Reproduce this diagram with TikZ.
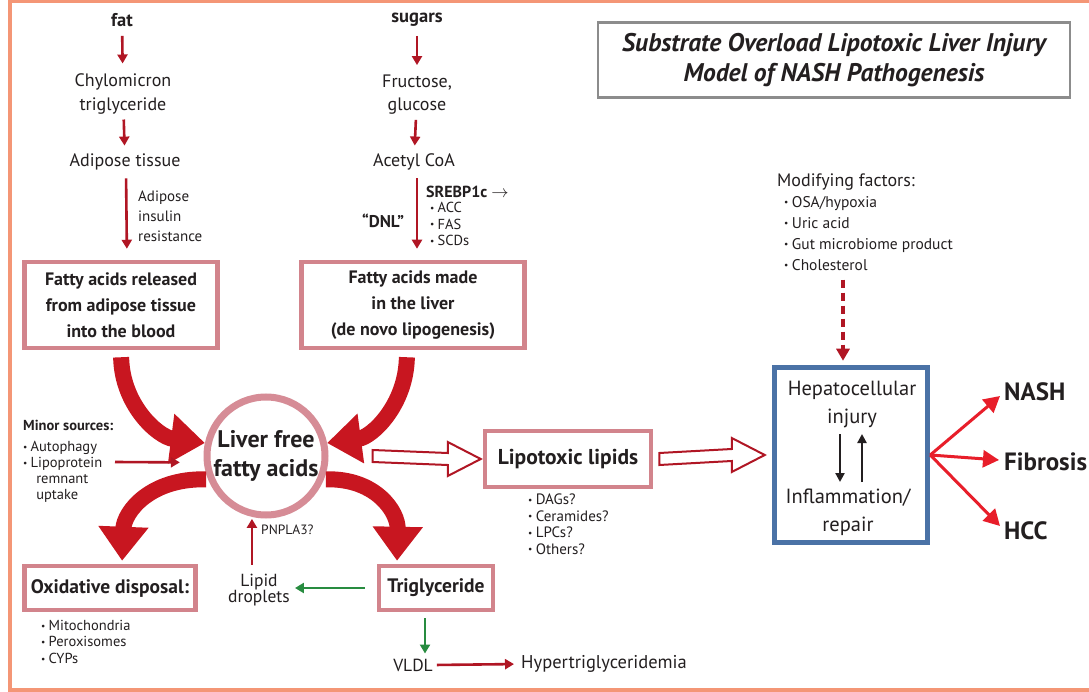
\documentclass[tikz,border=0pt]{standalone}
\usepackage{fontspec}
\setmainfont{PT Sans}
\usetikzlibrary{arrows.meta,calc}
\definecolor{dred}{RGB}{176,22,36}
\definecolor{bigred}{RGB}{200,22,32}
\definecolor{brightred}{RGB}{232,30,42}
\definecolor{boxpink}{RGB}{210,132,140}
\definecolor{ringpink}{RGB}{214,140,150}
\definecolor{framecol}{RGB}{244,150,118}
\definecolor{bluebox}{RGB}{74,114,166}
\definecolor{txtcol}{RGB}{35,31,32}
\definecolor{greenarr}{RGB}{40,140,64}
\definecolor{graybox}{RGB}{140,140,140}
\newcommand\fsz[2]{\fontsize{#1}{#2}\selectfont}
\newcommand\bul{\raisebox{0.2ex}{\fontsize{9.5}{9}\selectfont\textbullet}\hspace{0.22em}}
\begin{document}
\begin{tikzpicture}[x=1pt,y=-1pt,
  txt/.style={text=txtcol,inner sep=1pt,align=center},
  lbox/.style={draw=boxpink,line width=4.5pt,fill=white,text=txtcol,align=center,inner sep=2pt,font=\bfseries\fsz{18}{26}},
  redarr/.style={draw=dred,line width=2.6pt,-{Triangle[length=9pt,width=10pt]}},
  greenarrow/.style={draw=greenarr,line width=2.6pt,-{Triangle[length=9pt,width=10pt]}},
  bigarr/.style={draw=bigred,line width=16pt,-{Triangle[length=34pt,width=48pt]}},
  outarr/.style={draw=brightred,line width=3pt,-{Triangle[length=16pt,width=17pt]}},
  dblarr/.style={draw=dred,line width=2pt,fill=white,line join=miter},
  blackarr/.style={draw=txtcol,line width=2.4pt,-{Triangle[length=9pt,width=9pt]}},
]
\useasboundingbox (0,0) rectangle (1089,692);
\fill[white] (0,0) rectangle (1089,692);
\draw[framecol,line width=4pt] (10,1.5) rectangle (1100,689.5);

% left column
\node[txt,font=\bfseries\fsz{18.5}{20}] (fat) at (122,20) {fat};
\node[txt,font=\fsz{18}{24}] (chylo) at (123,94) {Chylomicron\\triglyceride};
\node[txt,font=\fsz{18}{20}] (adip) at (125,162) {Adipose tissue};
\node[txt,font=\fsz{15}{20},align=left,anchor=west] (air) at (137,216) {Adipose\\insulin\\resistance};
\node[lbox,minimum width=193pt,minimum height=86pt] (box1) at (121,305) {Fatty acids released\\from adipose tissue\\into the blood};
\draw[redarr,shorten <=8pt,shorten >=9pt] (fat) -- (chylo);
\draw[redarr,shorten <=4pt,shorten >=7pt] (chylo) -- (adip);
\draw[redarr,shorten <=7pt,shorten >=11pt] ([xshift=1pt]adip.south) -- ([xshift=6pt]box1.north);

% middle column
\node[txt,font=\bfseries\fsz{18.5}{20}] (sug) at (417,20) {sugars};
\node[txt,font=\fsz{18}{23}] (fruc) at (417,95) {Fructose,\\glucose};
\node[txt,font=\fsz{18}{20}] (acoa) at (414,162) {Acetyl CoA};
\node[lbox,minimum width=223pt,minimum height=86pt] (box2) at (413,305) {Fatty acids made\\in the liver\\(de novo lipogenesis)};
\draw[redarr,shorten <=8pt,shorten >=9pt] (sug) -- (fruc);
\draw[redarr,shorten <=4pt,shorten >=7pt] (fruc) -- (acoa);
\draw[redarr,shorten <=7pt,shorten >=11pt] ([xshift=3pt]acoa.south) -- ([xshift=4pt]box2.north);
\node[txt,font=\bfseries\fsz{16}{17},anchor=west] (srebp) at (425,192) {SREBP1c $\rightarrow$};
\node[txt,font=\fsz{14.5}{16.5},align=left,anchor=north west] (enz) at (429,201) {\bul ACC\\\bul FAS\\\bul SCDs};
\node[txt,font=\bfseries\fsz{17}{17}] (dnl) at (383,221) {``DNL''};

% title
\node[draw=graybox,line width=2.5pt,fill=white,text=txtcol,align=center,font=\bfseries\itshape\fsz{25.5}{30},minimum width=472pt,minimum height=75pt] (title) at (834,60) {Substrate Overload Lipotoxic Liver Injury\\Model of NASH Pathogenesis};

% circle
\node[circle,draw=ringpink,line width=7pt,minimum size=118pt,inner sep=0pt,text=txtcol,align=center,font=\bfseries\fsz{24}{29}] (circ) at (266,456) {Liver free\\fatty acids};

% big arrows
\draw[bigarr,shorten <=7pt,shorten >=0pt] (box1.south) .. controls (122,405) and (158,437) .. (circ.168);
\draw[bigarr,shorten <=7pt,shorten >=0pt] ([xshift=-6pt]box2.south) .. controls (406,405) and (372,437) .. (circ.12);

% minor sources
\node[txt,font=\bfseries\fsz{14.5}{16},anchor=west] (minor) at (22,425) {Minor sources:};
\node[txt,font=\fsz{14.5}{16},align=left,anchor=north west] (minlist) at (22,440) {\bul Autophagy\\\bul Lipoprotein\\\hspace{0.9em}remnant\\\hspace{0.9em}uptake};
\coordinate (mstart) at (115,462);
\draw[redarr,shorten >=24pt] (mstart) -- (circ.186);

% lipotoxic
\node[lbox,font=\bfseries\fsz{21.5}{22},minimum width=166pt,minimum height=56pt] (lipo) at (568,459) {Lipotoxic lipids};
\node[txt,font=\fsz{15}{16.5},align=left,anchor=north west] (lipolist) at (527,493) {\bul DAGs?\\\bul Ceramides?\\\bul LPCs?\\\bul Others?};

% modifying factors
\node[txt,font=\fsz{18}{18}] (modf) at (846,182) {Modifying factors:};
\node[txt,font=\fsz{15.5}{21},align=left,anchor=north west] (modlist) at (783,195) {\bul OSA/hypoxia\\\bul Uric acid\\\bul Gut microbiome product\\\bul Cholesterol};

% blue box
\node[draw=bluebox,line width=5.5pt,fill=white,minimum width=153pt,minimum height=175pt] (blue) at (851,455) {};
\node[txt,font=\fsz{20.5}{28}] (hep) at (852,404) {Hepatocellular\\injury};
\node[txt,font=\fsz{20.5}{28}] (infl) at (848,512) {Inflammation/\\repair};
\draw[blackarr] (840,434) -- (840,482);
\draw[blackarr] (862,482) -- (862,434);
\draw[draw=dred,line width=3.5pt,dash pattern=on 8pt off 5pt,-{Triangle[length=12pt,width=13pt]}] ([xshift=-8pt,yshift=-8pt]modlist.south -| blue.north) -- ([xshift=-8pt,yshift=4pt]blue.north);

% double (open) arrows
\path ([xshift=44pt]circ.east) coordinate (d1s) ([xshift=-2pt]lipo.west) coordinate (d1e);
\draw[dblarr] ($(d1s)+(0,-6)$) -- ($(d1e)+(-33,-6)$) -- ($(d1e)+(-33,-17)$) -- (d1e) -- ($(d1e)+(-33,17)$) -- ($(d1e)+(-33,6)$) -- ($(d1s)+(0,6)$) -- cycle;
\path ([xshift=6pt]lipo.east) coordinate (d2s) ([xshift=-7pt]blue.west) coordinate (d2e);
\draw[dblarr] ($(d2s)+(0,-6)$) -- ($(d2e)+(-33,-6)$) -- ($(d2e)+(-33,-17)$) -- (d2e) -- ($(d2e)+(-33,17)$) -- ($(d2e)+(-33,6)$) -- ($(d2s)+(0,6)$) -- cycle;

% outcomes
\node[txt,font=\bfseries\fsz{25}{26},anchor=west] (nash) at (1003,392) {NASH};
\node[txt,font=\bfseries\fsz{25}{26},anchor=west] (fib) at (1003,462) {Fibrosis};
\node[txt,font=\bfseries\fsz{25}{26},anchor=west] (hcc) at (1003,531) {HCC};
\draw[outarr] (blue.east) -- ([xshift=-3pt,yshift=-4pt]nash.west);
\draw[outarr] (blue.east) -- ([xshift=-4pt,yshift=2pt]fib.west);
\draw[outarr] (blue.east) -- ([xshift=-3pt,yshift=5pt]hcc.west);

% bottom
\node[lbox,font=\bfseries\fsz{19.5}{22},minimum width=171pt,minimum height=44pt] (oxid) at (110,588) {Oxidative disposal:};
\node[txt,font=\fsz{14.5}{16.5},align=left,anchor=north west] (oxlist) at (40,619) {\bul Mitochondria\\\bul Peroxisomes\\\bul CYPs};
\node[lbox,font=\bfseries\fsz{19.5}{22},minimum width=114pt,minimum height=44pt] (trig) at (436,588) {Triglyceride};
\node[txt,font=\fsz{17.5}{16}] (lipid) at (259,590) {Lipid\\droplets};
\node[txt,font=\fsz{13.5}{15},anchor=west] (pnp) at (260,530) {PNPLA3?};
\node[txt,font=\fsz{17.5}{18}] (vldl) at (413,665) {VLDL};
\node[txt,font=\fsz{18.5}{18},anchor=west] (hyper) at (520,664) {Hypertriglyceridemia};

\draw[bigarr,shorten <=2pt,shorten >=3pt] (circ.202) .. controls (150,478) and (124,512) .. ([xshift=12pt]oxid.north);
\draw[bigarr,shorten <=2pt,shorten >=3pt] (circ.338) .. controls (376,478) and (398,512) .. ([xshift=-39pt]trig.north);

\draw[redarr,shorten <=8pt,shorten >=2pt] (lipid.north -| circ.257) -- (circ.257);
\draw[greenarrow,shorten <=12pt,shorten >=4pt] (trig.west) -- (trig.west -| lipid.east);
\draw[greenarrow,shorten <=6pt,shorten >=4pt] ([xshift=-11pt]trig.south) -- ([xshift=12pt]vldl.north);
\draw[redarr,shorten <=3pt,shorten >=6pt] (vldl.east) -- (hyper.west);
\end{tikzpicture}
\end{document}
